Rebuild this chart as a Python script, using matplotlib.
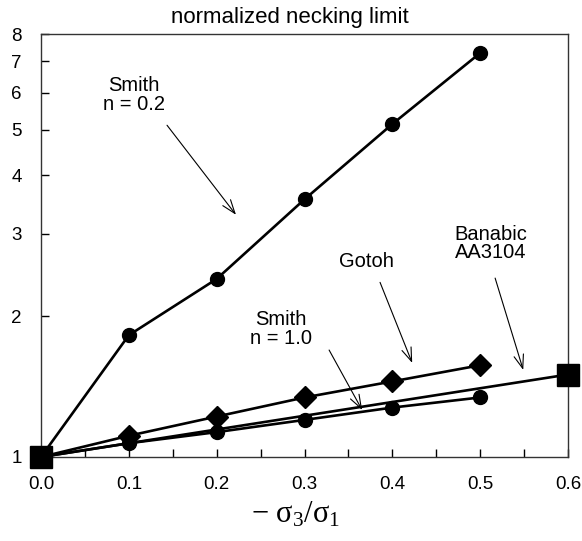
import matplotlib.pyplot as plt
from matplotlib.ticker import FixedLocator, NullLocator, MultipleLocator

plt.rcParams['font.family'] = ['Liberation Sans', 'DejaVu Sans']
plt.rcParams['mathtext.fontset'] = 'custom'
plt.rcParams['mathtext.rm'] = 'Liberation Serif'
plt.rcParams['mathtext.it'] = 'Liberation Serif:italic'

# values
x_vals = [0.0, 0.1, 0.2, 0.3, 0.4, 0.5]
smith_02 = [1.0, 1.82, 2.40, 3.55, 5.14, 7.29]
gotoh = [1.0, 1.11, 1.22, 1.34, 1.45, 1.57]
smith_10 = [1.0, 1.07, 1.13, 1.20, 1.275, 1.34]
banabic_x = [0.0, 0.6]
banabic = [1.0, 1.50]

y_ticks = [1, 2, 3, 4, 5, 6, 7, 8]

fig = plt.figure(figsize=(5.82, 5.41), dpi=100)
ax = fig.add_axes([0.0704, 0.1553, 0.9056, 0.7817])

ax.plot(x_vals, smith_02, color='black', lw=1.9, marker='o', ms=10)
ax.plot(x_vals, gotoh, color='black', lw=1.9, marker='D', ms=11)
ax.plot(x_vals, smith_10, color='black', lw=1.9, marker='o', ms=10)
ax.plot(banabic_x, banabic, color='black', lw=1.9, marker='s', ms=15.5,
        clip_on=False, zorder=5)

ax.set_yscale('log')
ax.set_xlim(0, 0.6)
ax.set_ylim(1, 8)
ax.yaxis.set_major_locator(FixedLocator(y_ticks))
ax.yaxis.set_minor_locator(NullLocator())
ax.set_yticklabels([str(t) for t in y_ticks])
ax.xaxis.set_major_locator(MultipleLocator(0.1))
ax.xaxis.set_minor_locator(MultipleLocator(0.05))
ax.xaxis.set_major_formatter(plt.FuncFormatter(lambda v, p: f"{v:.1f}"))

ax.tick_params(which='both', direction='in', top=False, right=False,
               labelsize=13.5, width=1)
ax.tick_params(which='major', length=6)
ax.tick_params(which='minor', length=6)
ax.tick_params(axis='x', which='major', pad=14)
ax.tick_params(axis='y', which='major', pad=14)
for s in ax.spines.values():
    s.set_linewidth(1.0)
    s.set_color('#333333')

ax.set_title('normalized necking limit', fontsize=16, pad=8, x=0.4725)
ax.set_xlabel(r'$\mathrm{-\ \sigma_3/\sigma_1}$', fontsize=22)
ax.xaxis.set_label_coords(0.484, -0.1)

# annotation text and arrows
arr = dict(arrowstyle='->,head_length=0.7,head_width=0.25', lw=0.8,
           color='black', mutation_scale=14, shrinkA=0, shrinkB=0)
txt = dict(ha='center', va='center', fontsize=14.5, linespacing=0.95)

ax.text(0.106, 5.93, 'Smith\nn = 0.2', **txt)
ax.annotate('', xy=(0.222, 3.29), xytext=(0.1435, 5.11), arrowprops=arr)

ax.text(0.370, 2.62, 'Gotoh', **txt)
ax.annotate('', xy=(0.4226, 1.588), xytext=(0.386, 2.36), arrowprops=arr)

ax.text(0.5125, 2.86, 'Banabic\nAA3104', **txt)
ax.annotate('', xy=(0.549, 1.534), xytext=(0.517, 2.41), arrowprops=arr)

ax.text(0.273, 1.877, 'Smith\nn = 1.0', **txt)
ax.annotate('', xy=(0.3656, 1.26), xytext=(0.328, 1.692), arrowprops=arr)

fig.savefig('out.png', dpi=100)
